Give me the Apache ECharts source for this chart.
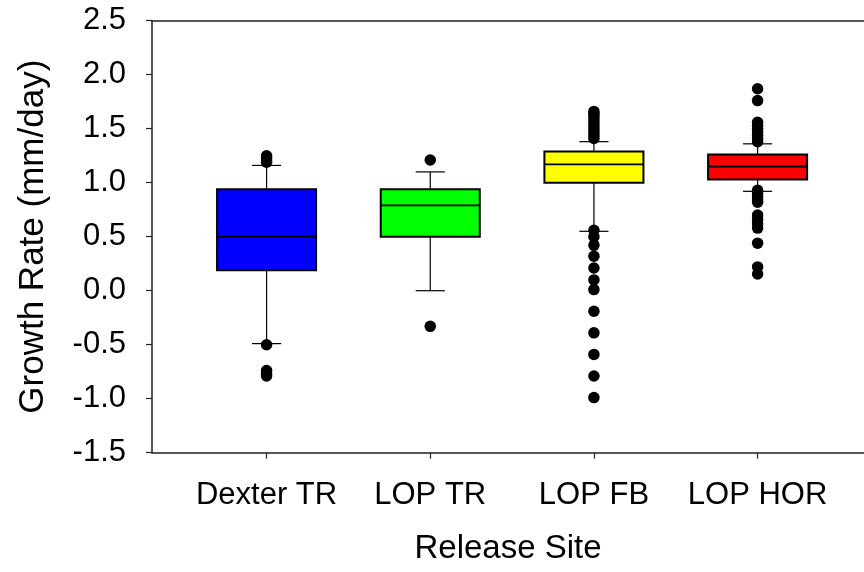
<!DOCTYPE html>
<html>
<head>
<meta charset="utf-8">
<script src="https://cdn.jsdelivr.net/npm/echarts@6/dist/echarts.min.js"></script>
<style>
html,body{margin:0;padding:0;background:#fff;}
#chart{width:864px;height:572px;}
</style>
</head>
<body>
<div id="chart"></div>
<script>
// Categories and box statistics (whisker low, Q1, median, Q3, whisker high)
const categories = ['Dexter TR', 'LOP TR', 'LOP FB', 'LOP HOR'];
const boxColors = ['#0000FF', '#00FF00', '#FFFF00', '#FF0000'];
const whiskerLow = [-0.49, 0.00, 0.55, 0.92];
const q1 = [0.19, 0.50, 1.00, 1.03];
const median = [0.50, 0.79, 1.17, 1.15];
const q3 = [0.94, 0.94, 1.29, 1.26];
const whiskerHigh = [1.16, 1.10, 1.38, 1.36];

// Outliers per category
const outliersDexterTR = [1.19, 1.21, 1.23, 1.25, -0.50, -0.74, -0.77, -0.79];
const outliersLopTR = [1.21, -0.33];
const outliersLopFB = [1.41, 1.44, 1.47, 1.50, 1.53, 1.56, 1.59, 1.62, 1.64, 1.66,
  0.56, 0.50, 0.42, 0.32, 0.21, 0.10, 0.01, -0.19, -0.39, -0.59, -0.79, -0.99];
const outliersLopHOR = [1.87, 1.76, 1.38, 1.41, 1.44, 1.47, 1.50, 1.53, 1.56,
  0.93, 0.90, 0.87, 0.84, 0.82, 0.70, 0.66, 0.62, 0.58, 0.44, 0.22, 0.155];

const yTicks = [-1.5, -1.0, -0.5, 0.0, 0.5, 1.0, 1.5, 2.0, 2.5];

const outlierLists = [outliersDexterTR, outliersLopTR, outliersLopFB, outliersLopHOR];
const boxData = categories.map((c, i) => [i + 1, whiskerLow[i], q1[i], median[i], q3[i], whiskerHigh[i], i]);
const outlierData = [];
outlierLists.forEach((list, i) => list.forEach(v => outlierData.push([i + 1, v])));

const FONT = 'Liberation Sans, Arial, sans-serif';
const axisColor = '#222';

const chart = echarts.init(document.getElementById('chart'), null, {renderer: 'canvas'});
chart.setOption({
  animation: false,
  backgroundColor: '#fff',
  grid: {left: 152, right: 0, top: 20.7, bottom: 119.3, containLabel: false},
  xAxis: [{
    type: 'value',
    min: 0.3, max: 4.65,
    position: 'bottom',
    name: 'Release Site',
    nameLocation: 'middle',
    nameGap: 80,
    nameTextStyle: {fontFamily: FONT, fontSize: 33, color: '#000'},
    axisLine: {show: true, onZero: false, lineStyle: {color: axisColor, width: 1.5}},
    axisTick: {show: true, customValues: [1, 2, 3, 4], length: 6, inside: false, lineStyle: {color: axisColor, width: 1.2}},
    axisLabel: {
      show: true, customValues: [1, 2, 3, 4], margin: 27,
      fontFamily: FONT, fontSize: 31, color: '#000',
      formatter: v => categories[Math.round(v) - 1] || ''
    },
    splitLine: {show: false}
  }, {
    type: 'value',
    min: 0.3, max: 4.65,
    position: 'top',
    axisLine: {show: true, onZero: false, lineStyle: {color: axisColor, width: 1.5}},
    axisTick: {show: false},
    axisLabel: {show: false},
    splitLine: {show: false}
  }],
  yAxis: {
    type: 'value',
    min: -1.5, max: 2.5, interval: 0.5,
    name: 'Growth Rate (mm/day)',
    nameLocation: 'middle',
    nameGap: 101,
    nameRotate: 90,
    nameTextStyle: {fontFamily: FONT, fontSize: 35, color: '#000'},
    axisLine: {show: true, onZero: false, lineStyle: {color: axisColor, width: 1.5}},
    axisTick: {show: true, length: 6, inside: false, lineStyle: {color: axisColor, width: 1.2}},
    axisLabel: {
      margin: 26, fontFamily: FONT, fontSize: 31, color: '#000',
      formatter: v => v.toFixed(1)
    },
    splitLine: {show: false}
  },
  series: [{
    type: 'custom',
    xAxisIndex: 0,
    data: boxData,
    z: 2,
    renderItem: function (params, api) {
      const x = api.value(0);
      const ci = api.value(6);
      const pLow = api.coord([x, api.value(1)]);
      const pQ1 = api.coord([x, api.value(2)]);
      const pMed = api.coord([x, api.value(3)]);
      const pQ3 = api.coord([x, api.value(4)]);
      const pHigh = api.coord([x, api.value(5)]);
      const bw = api.size([0.605, 0])[0];
      const cw = api.size([0.178, 0])[0];
      const cx = pQ1[0];
      const ls = {stroke: '#000', lineWidth: 1.2};
      return {
        type: 'group',
        children: [
          {type: 'line', shape: {x1: cx, y1: pLow[1], x2: cx, y2: pQ1[1]}, style: ls},
          {type: 'line', shape: {x1: cx, y1: pQ3[1], x2: cx, y2: pHigh[1]}, style: ls},
          {type: 'line', shape: {x1: cx - cw / 2, y1: pLow[1], x2: cx + cw / 2, y2: pLow[1]}, style: ls},
          {type: 'line', shape: {x1: cx - cw / 2, y1: pHigh[1], x2: cx + cw / 2, y2: pHigh[1]}, style: ls},
          {type: 'rect', shape: {x: cx - bw / 2, y: pQ3[1], width: bw, height: pQ1[1] - pQ3[1]},
            style: {fill: boxColors[ci], stroke: '#000', lineWidth: 2}},
          {type: 'line', shape: {x1: cx - bw / 2, y1: pMed[1], x2: cx + bw / 2, y2: pMed[1]},
            style: {stroke: '#000', lineWidth: 1.8}}
        ]
      };
    }
  }, {
    type: 'scatter',
    xAxisIndex: 0,
    data: outlierData,
    symbol: 'circle',
    symbolSize: 11.5,
    itemStyle: {color: '#000', opacity: 1},
    z: 3
  }]
});
</script>
</body>
</html>
